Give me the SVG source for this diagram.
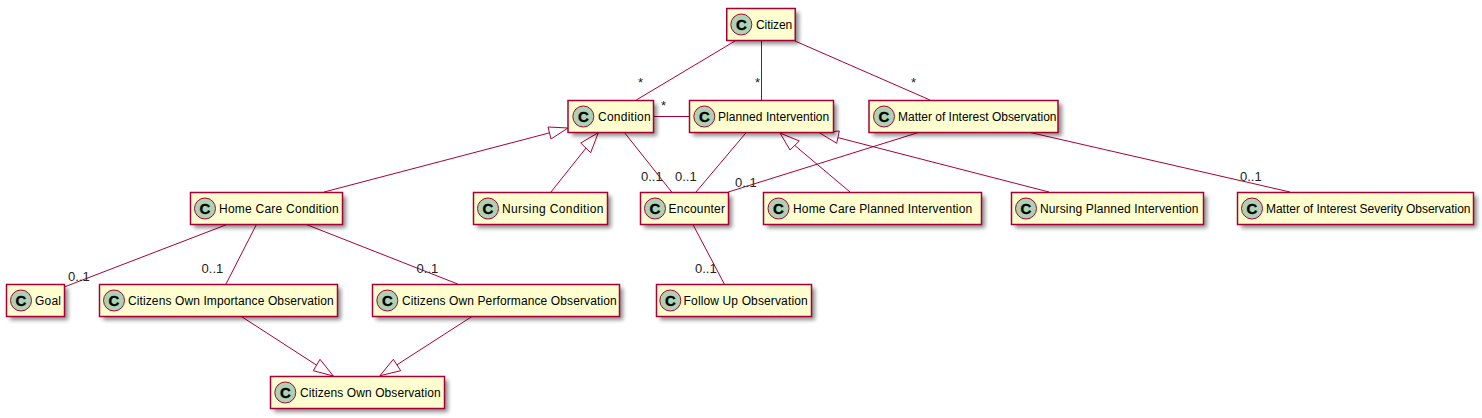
<svg xmlns="http://www.w3.org/2000/svg" width="1482" height="418" viewBox="0 0 1482 418">
<style>
text{font-family:"Liberation Sans",Arial,sans-serif;font-size:12px;fill:#000}
.b{fill:#FEFECE;stroke:#A80036;stroke-width:1.5}
.s{fill:#000;opacity:.45;filter:url(#blur)}
.c{fill:#ADD1B2;stroke:#A80036;stroke-width:1}
.g{font-weight:bold;font-size:15px;text-anchor:middle;stroke:#000;stroke-width:.3}
.l{font-size:13px;fill:#222}
#connectors line{stroke:#A80036;stroke-width:1;fill:none}
#connectors polygon{fill:#fff;stroke:#A80036;stroke-width:1}
</style>
<defs>
<filter id="blur" x="-20%" y="-40%" width="140%" height="180%"><feGaussianBlur stdDeviation="2"/></filter>
</defs>
<g id="connectors">
<line x1="735" y1="41" x2="636.300" y2="100"/>
<line x1="761.500" y1="41" x2="761.500" y2="100"/>
<line x1="795" y1="41" x2="930" y2="100"/>
<line x1="653" y1="116.500" x2="689" y2="116.500"/>
<line x1="624" y1="132" x2="671.700" y2="192"/>
<line x1="746.700" y1="132" x2="696" y2="192"/>
<line x1="920" y1="132" x2="728.300" y2="192"/>
<line x1="1028" y1="132" x2="1290" y2="192"/>
<line x1="692.700" y1="224" x2="724.300" y2="284"/>
<line x1="324" y1="192" x2="568" y2="128"/>
<polygon points="568,128 548,127 551,139"/>
<line x1="551" y1="192" x2="598" y2="133"/>
<polygon points="598.300,132.700 580.700,143 590.700,152.700"/>
<line x1="850" y1="192" x2="780" y2="133"/>
<polygon points="780,133 790,150 799.300,141"/>
<line x1="1049" y1="192" x2="820" y2="133"/>
<polygon points="819.300,132.700 836.700,143.300 839.300,131"/>
<line x1="226.700" y1="224.600" x2="65" y2="286.700"/>
<line x1="256.700" y1="224" x2="226" y2="284"/>
<line x1="305" y1="224" x2="457.700" y2="284"/>
<line x1="241.700" y1="316.700" x2="333.300" y2="376"/>
<polygon points="333.300,376 320,359.300 313.300,370.700"/>
<line x1="471.700" y1="316.700" x2="380" y2="375.700"/>
<polygon points="380,375.700 393.300,359.300 400.700,370.700"/>
</g>
<g id="labels">
<text class="l" x="638" y="87">*</text>
<text class="l" x="755" y="87">*</text>
<text class="l" x="911" y="87">*</text>
<text class="l" x="661" y="110">*</text>
<text class="l" x="641" y="181">0..1</text>
<text class="l" x="675" y="181">0..1</text>
<text class="l" x="735" y="187">0..1</text>
<text class="l" x="1240" y="181">0..1</text>
<text class="l" x="695" y="273">0..1</text>
<text class="l" x="68" y="281">0..1</text>
<text class="l" x="201.600" y="273">0..1</text>
<text class="l" x="416.600" y="273">0..1</text>
</g>
<g id="citizen"><rect class="s" x="731" y="12" width="68" height="32"/><rect class="b" x="726.750" y="8.500" width="68.500" height="32"/><circle class="c" cx="741.300" cy="24.500" r="10.500"/><text class="g" x="741.300" y="30">C</text><text x="756" y="28.500" textLength="36.300">Citizen</text></g>
<g id="condition"><rect class="s" x="572" y="104" width="85" height="32"/><rect class="b" x="568" y="100.500" width="85.500" height="32"/><circle class="c" cx="583.300" cy="116.500" r="10.500"/><text class="g" x="583.300" y="122">C</text><text x="598" y="120.500" textLength="52.700">Condition</text></g>
<g id="planned-intervention"><rect class="s" x="693" y="104" width="144" height="32"/><rect class="b" x="689.500" y="100.500" width="144" height="32"/><circle class="c" cx="704.300" cy="116.500" r="10.500"/><text class="g" x="704.300" y="122">C</text><text x="718" y="120.500" textLength="111.300">Planned Intervention</text></g>
<g id="matter-of-interest"><rect class="s" x="873" y="104" width="189" height="32"/><rect class="b" x="869" y="100.500" width="189" height="32"/><circle class="c" cx="884" cy="116.500" r="10.500"/><text class="g" x="884" y="122">C</text><text x="898" y="120.500" textLength="158.500">Matter of Interest Observation</text></g>
<g id="home-care-condition"><rect class="s" x="194" y="196" width="152" height="32"/><rect class="b" x="190.500" y="192.500" width="152" height="32"/><circle class="c" cx="205" cy="208.500" r="10.500"/><text class="g" x="205" y="214">C</text><text x="219" y="212.500" textLength="119.700">Home Care Condition</text></g>
<g id="nursing-condition"><rect class="s" x="477" y="196" width="134" height="32"/><rect class="b" x="473.500" y="192.500" width="134" height="32"/><circle class="c" cx="488" cy="208.500" r="10.500"/><text class="g" x="488" y="214">C</text><text x="502" y="212.500" textLength="101.500">Nursing Condition</text></g>
<g id="encounter"><rect class="s" x="644" y="196" width="88" height="32"/><rect class="b" x="640.500" y="192.500" width="88" height="32"/><circle class="c" cx="655" cy="208.500" r="10.500"/><text class="g" x="655" y="214">C</text><text x="668.600" y="212.500" textLength="56.400">Encounter</text></g>
<g id="home-care-planned"><rect class="s" x="767" y="196" width="218" height="32"/><rect class="b" x="763.500" y="192.500" width="218" height="32"/><circle class="c" cx="778.500" cy="208.500" r="10.500"/><text class="g" x="778.500" y="214">C</text><text x="793" y="212.500" textLength="179.200">Home Care Planned Intervention</text></g>
<g id="nursing-planned"><rect class="s" x="1015" y="196" width="192" height="32"/><rect class="b" x="1011.500" y="192.500" width="192" height="32"/><circle class="c" cx="1026" cy="208.500" r="10.500"/><text class="g" x="1026" y="214">C</text><text x="1040" y="212.500" textLength="158.500">Nursing Planned Intervention</text></g>
<g id="matter-severity"><rect class="s" x="1241" y="196" width="236" height="32"/><rect class="b" x="1237.500" y="192.500" width="236" height="32"/><circle class="c" cx="1252" cy="208.500" r="10.500"/><text class="g" x="1252" y="214">C</text><text x="1266" y="212.500" textLength="204.500">Matter of Interest Severity Observation</text></g>
<g id="goal"><rect class="s" x="10" y="288" width="58" height="32"/><rect class="b" x="6.500" y="284.500" width="58" height="32"/><circle class="c" cx="21" cy="300.500" r="10.500"/><text class="g" x="21" y="306">C</text><text x="35" y="304.500" textLength="26">Goal</text></g>
<g id="citizens-own-importance"><rect class="s" x="103" y="288" width="238" height="32"/><rect class="b" x="99.500" y="284.500" width="238" height="32"/><circle class="c" cx="114" cy="300.500" r="10.500"/><text class="g" x="114" y="306">C</text><text x="128" y="304.500" textLength="205.700">Citizens Own Importance Observation</text></g>
<g id="citizens-own-performance"><rect class="s" x="376" y="288" width="247" height="32"/><rect class="b" x="372.500" y="284.500" width="247" height="32"/><circle class="c" cx="387.300" cy="300.500" r="10.500"/><text class="g" x="387.300" y="306">C</text><text x="402" y="304.500" textLength="214.700">Citizens Own Performance Observation</text></g>
<g id="follow-up"><rect class="s" x="660" y="288" width="155" height="32"/><rect class="b" x="656.500" y="284.500" width="155" height="32"/><circle class="c" cx="670.300" cy="300.500" r="10.500"/><text class="g" x="670.300" y="306">C</text><text x="683.600" y="304.500" textLength="124.100">Follow Up Observation</text></g>
<g id="citizens-own-observation"><rect class="s" x="274" y="380" width="174" height="32"/><rect class="b" x="270.500" y="376.500" width="174" height="32"/><circle class="c" cx="285.300" cy="392.500" r="10.500"/><text class="g" x="285.300" y="398">C</text><text x="300" y="396.500" textLength="140.700">Citizens Own Observation</text></g>
</svg>
